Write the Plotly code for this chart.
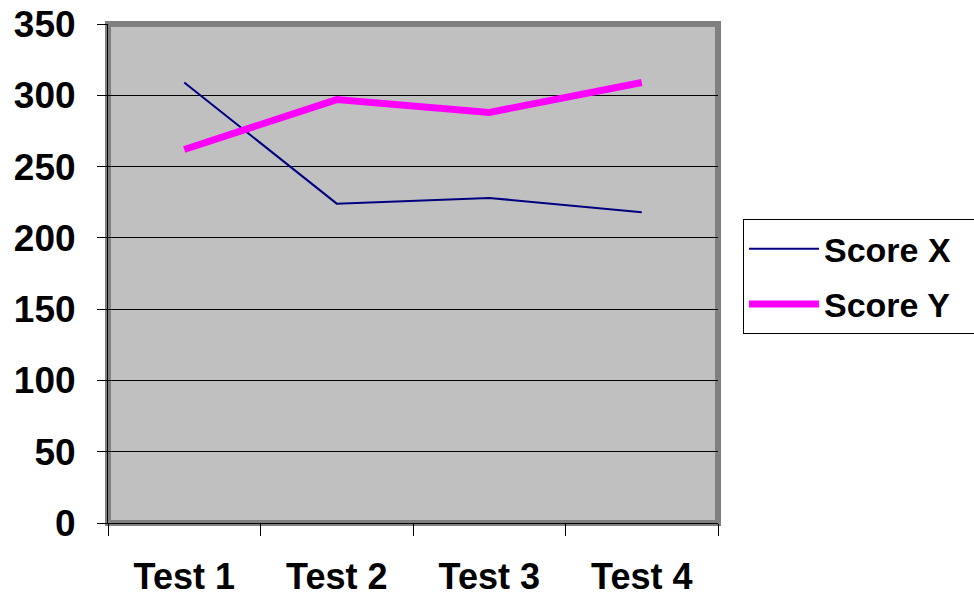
import plotly.graph_objects as go

categories = ["Test 1", "Test 2", "Test 3", "Test 4"]
score_x = [309, 224, 228, 218]
score_y = [262, 297, 288, 309]
y_ticks = [0, 50, 100, 150, 200, 250, 300, 350]

FONT = "Liberation Sans, Arial, sans-serif"
PAD = "\u00a0" * 2

fig = go.Figure()
fig.add_trace(go.Scatter(x=categories, y=score_x, mode="lines", name="Score X" + PAD,
                         line=dict(color="#000080", width=2), legendgroup="a"))
fig.add_trace(go.Scatter(x=categories, y=score_y, mode="lines", name="Score Y" + PAD,
                         line=dict(color="#FF00FF", width=7), legendgroup="b"))

fig.add_shape(type="rect", xref="paper", yref="paper", x0=0, x1=1, y0=0, y1=1,
              line=dict(color="#808080", width=6), fillcolor="rgba(0,0,0,0)", layer="below")

fig.update_layout(
    width=974, height=597,
    margin=dict(l=108, r=256, t=23.5, b=73.5, pad=0, autoexpand=False),
    paper_bgcolor="white", plot_bgcolor="#C0C0C0",
    font=dict(family=FONT, size=33, color="black"),
    showlegend=True,
    legend=dict(x=1.041, y=0.609, xanchor="left", yanchor="top",
                bordercolor="black", borderwidth=1, bgcolor="white",
                font=dict(family=FONT, size=34, color="black", weight="bold"),
                tracegroupgap=8, itemwidth=70),
    xaxis=dict(type="category", categoryarray=categories, tickson="boundaries",
               ticks="outside", ticklen=12, tickcolor="black", tickwidth=1,
               showline=True, linecolor="black", linewidth=1, showgrid=False,
               automargin=False,
               tickfont=dict(family=FONT, size=36, color="black", weight="bold"),
               ticklabelstandoff=22, range=[-0.5, 3.5], fixedrange=True),
    yaxis=dict(range=[0, 350], tickvals=y_ticks, ticks="outside", ticklen=10,
               tickcolor="black", tickwidth=1, showline=True, linecolor="black",
               linewidth=1, showgrid=True, gridcolor="black", gridwidth=1,
               zeroline=False, automargin=False, fixedrange=True,
               tickfont=dict(family=FONT, size=37, color="black", weight="bold"),
               ticklabelstandoff=14),
)

fig.write_html("out.html", post_script="document.body.style.margin='0';",
               config={"displayModeBar": False})
